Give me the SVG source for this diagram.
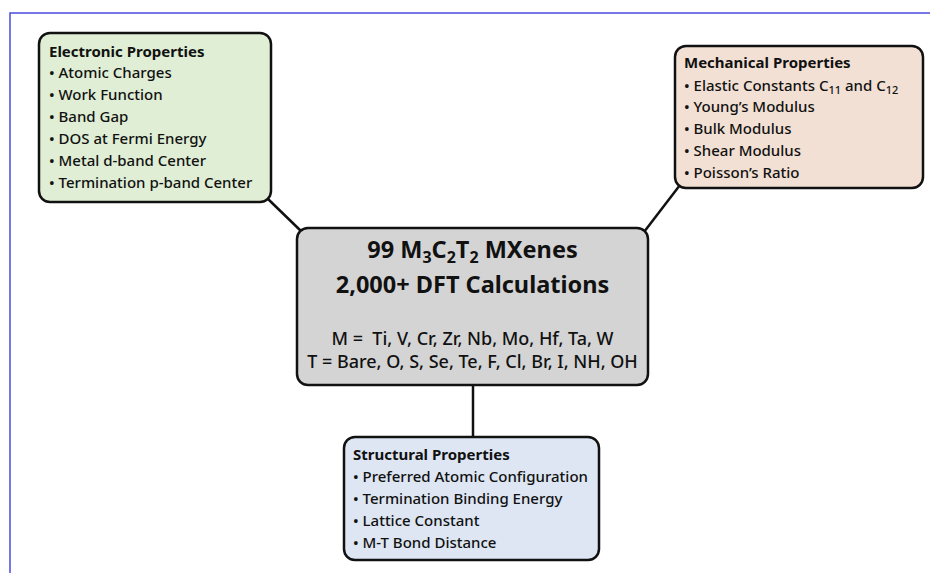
<svg xmlns="http://www.w3.org/2000/svg" width="930" height="573" viewBox="0 0 930 573">
<style>
.box{stroke:#111;stroke-width:2.5}
.t{font-family:"Noto Sans","Liberation Sans",sans-serif;fill:#111}
.h{font-size:15px;font-weight:bold}
.b{font-size:15px;font-weight:500}
.big{font-size:23.5px;font-weight:bold;text-anchor:middle}
.mid{font-size:18px;font-weight:500;text-anchor:middle}
.sub{font-size:11px}
.conn line{stroke:#111;stroke-width:2.5}
</style>
<rect width="930" height="573" fill="#ffffff"/>
<polyline points="10,573 10,13 930,13" fill="none" stroke="#2b2bd9" stroke-width="1.5" opacity="0.85"/>
<g class="conn">
<line x1="268" y1="199" x2="302" y2="232"/>
<line x1="680" y1="185" x2="644" y2="232"/>
<line x1="473" y1="385" x2="473" y2="437"/>
</g>
<g id="electronic">
<rect class="box" x="39" y="33" width="232" height="169" rx="11" fill="#dfeed4"/>
<text class="t h" x="49" y="57">Electronic Properties</text>
<text class="t b" x="49" y="78">• Atomic Charges</text>
<text class="t b" x="49" y="100">• Work Function</text>
<text class="t b" x="49" y="122">• Band Gap</text>
<text class="t b" x="49" y="144">• DOS at Fermi Energy</text>
<text class="t b" x="49" y="166">• Metal d-band Center</text>
<text class="t b" x="49" y="188">• Termination p-band Center</text>
</g>
<g id="mechanical">
<rect class="box" x="675" y="46" width="248" height="142" rx="11" fill="#f2e0d4"/>
<text class="t h" x="684" y="68">Mechanical Properties</text>
<text class="t b" x="684" y="91">• Elastic Constants C<tspan class="sub" dy="3">11</tspan><tspan dy="-3"> and C</tspan><tspan class="sub" dy="3">12</tspan></text>
<text class="t b" x="684" y="112">• Young’s Modulus</text>
<text class="t b" x="684" y="134">• Bulk Modulus</text>
<text class="t b" x="684" y="156">• Shear Modulus</text>
<text class="t b" x="684" y="178">• Poisson’s Ratio</text>
</g>
<g id="center">
<rect class="box" x="297" y="228" width="351" height="157" rx="11" fill="#d4d4d4"/>
<text class="t big" x="472.5" y="258">99 M<tspan font-size="16" dy="5">3</tspan><tspan dy="-5">C</tspan><tspan font-size="16" dy="5">2</tspan><tspan dy="-5">T</tspan><tspan font-size="16" dy="5">2</tspan><tspan dy="-5"> MXenes</tspan></text>
<text class="t big" x="472.5" y="293">2,000+ DFT Calculations</text>
<text class="t mid" x="472.5" y="345">M =&#160; Ti, V, Cr, Zr, Nb, Mo, Hf, Ta, W</text>
<text class="t mid" x="472.5" y="368">T = Bare, O, S, Se, Te, F, Cl, Br, I, NH, OH</text>
</g>
<g id="structural">
<rect class="box" x="344" y="437" width="255" height="123" rx="11" fill="#dde6f2"/>
<text class="t h" x="353" y="460">Structural Properties</text>
<text class="t b" x="353" y="482">• Preferred Atomic Configuration</text>
<text class="t b" x="353" y="504">• Termination Binding Energy</text>
<text class="t b" x="353" y="526">• Lattice Constant</text>
<text class="t b" x="353" y="548">• M-T Bond Distance</text>
</g>
</svg>
